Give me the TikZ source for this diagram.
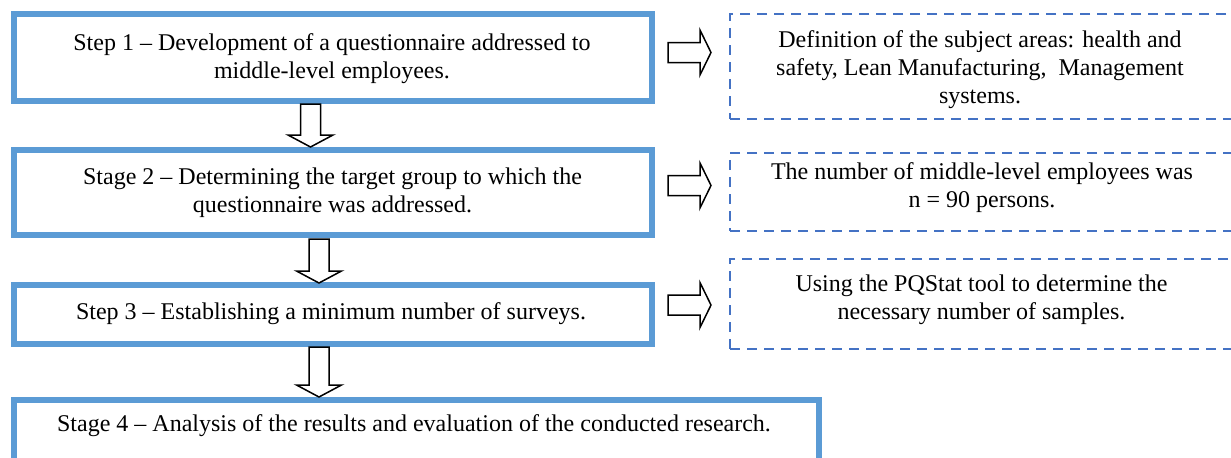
\documentclass[tikz,border=0pt]{standalone}
\usepackage{fontspec}
\setmainfont{Liberation Serif}
\definecolor{stepblue}{HTML}{5B9BD5}
\definecolor{noteblue}{HTML}{4472C4}
% block arrows, drawn in pixel units (y grows downward)
\newcommand\blockdown[3]{% centre x, shaft top, tip
  \draw[blockarrow] (#1-10,#2) -- (#1-10,#3-12) -- (#1-22.5,#3-12) -- (#1,#3)
    -- (#1+22.5,#3-12) -- (#1+10,#3-12) -- (#1+10,#2) -- cycle;}
\newcommand\blockright[3]{% centre y, shaft left, tip
  \draw[blockarrow] (#2,#1-10) -- (#3-11,#1-10) -- (#3-11,#1-22.5) -- (#3,#1)
    -- (#3-11,#1+22.5) -- (#3-11,#1+10) -- (#2,#1+10) -- cycle;}
\tikzset{
  stepbox/.style={draw=stepblue, line width=3pt, fill=white, inner sep=0pt},
  notebox/.style={draw=noteblue, line width=1pt, dash pattern=on 5pt off 3.5pt, inner sep=0pt},
  txt/.style={align=center, inner sep=0pt, font=\fontsize{12}{14}\selectfont},
  blockarrow/.style={draw=black, line width=0.75pt, fill=white, line join=miter},
}
\begin{document}
\begin{tikzpicture}[x=0.5pt, y=-0.5pt]
\useasboundingbox (0,0) rectangle (1231,457);
\clip (0,0) rectangle (1231,457);
\fill[white] (0,0) rectangle (1231,457);

% main steps
\node[stepbox, minimum width=319pt, minimum height=43.5pt] (s1) at (333,57.5) {};
\node[stepbox, minimum width=319pt, minimum height=42.5pt] (s2) at (333,192.5) {};
\node[stepbox, minimum width=319pt, minimum height=29.5pt] (s3) at (333,314.5) {};
\node[stepbox, minimum width=402.5pt, minimum height=40pt, anchor=north] (s4) at (416.5,397) {};

\node[txt] (t1) at (332,58.5) {Step 1 -- Development of a questionnaire addressed to\\middle-level employees.};
\node[txt] (t2) at (332.5,192.5) {Stage 2 -- Determining the target group to which the\\questionnaire was addressed.};
\node[txt] (t3) at (331,314) {Step 3 -- Establishing a minimum number of surveys.};
\node[txt] (t4) at (414,426) {Stage 4 -- Analysis of the results and evaluation of the conducted research.};

% side notes
\node[notebox, minimum width=255pt, minimum height=52.5pt] (d1) at (985,66.5) {};
\node[notebox, minimum width=255pt, minimum height=39pt] (d2) at (985,192) {};
\node[notebox, minimum width=255pt, minimum height=45pt] (d3) at (985,304) {};

\node[txt] (u1) at (980,69.5) {Definition of the subject areas: health and\\safety, Lean Manufacturing,~ Management\\systems.};
\node[txt] (u2) at (982,188) {The number of middle-level employees was\\n = 90 persons.};
\node[txt] (u3) at (981.5,300) {Using the PQStat tool to determine the\\necessary number of samples.};

% arrows between steps
\blockdown{310.5}{104}{147}
\blockdown{319}{239}{283}
\blockdown{319}{347}{397}
% arrows towards the notes
\blockright{52.5}{668}{711}
\blockright{185.5}{668}{711}
\blockright{305}{668}{711}
\end{tikzpicture}
\end{document}
